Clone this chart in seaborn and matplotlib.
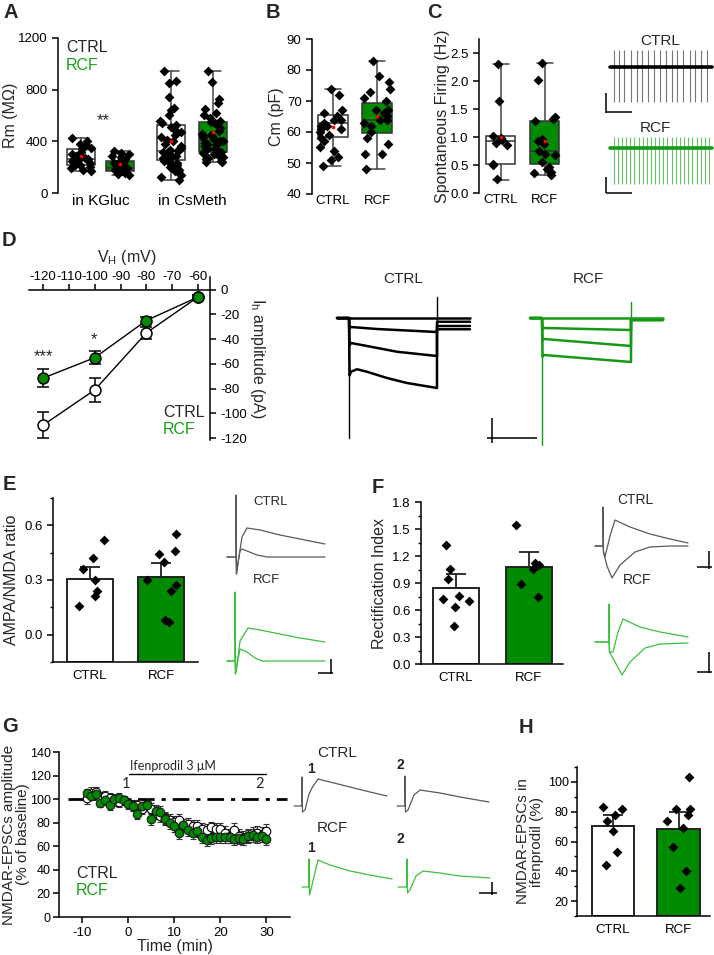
"""
plot.py
-------
Multi-panel figure comparing CTRL and RCF neurons (passive properties,
Ih, AMPA/NMDA ratio, rectification and ifenprodil sensitivity).
Saves out.png (714 x 955 px).
"""
import matplotlib

matplotlib.use("Agg")
import matplotlib.pyplot as plt
import numpy as np
import pandas as pd
import seaborn as sns

# ----------------------------------------------------------------------
# Data
# ----------------------------------------------------------------------

# A - membrane resistance (MOhm), order: KGluc CTRL, KGluc RCF, CsMeth CTRL, CsMeth RCF
A_KGLUC_CTRL = [426, 400, 380, 372, 350, 340, 320, 300, 290, 280, 270, 263, 258, 250,
                240, 230, 220, 214, 205, 195, 180, 168]
A_KGLUC_RCF = [323, 310, 300, 290, 280, 265, 250, 240, 230, 220, 210, 205, 200, 195,
               192, 188, 185, 180, 175, 172, 170, 165, 160, 155, 150, 142]
A_CSMETH_CTRL = [947, 870, 850, 740, 660, 640, 600, 560, 540, 530, 510, 490, 470, 450,
                 430, 410, 400, 380, 360, 350, 340, 330, 325, 320, 310, 300, 290, 280,
                 270, 265, 260, 255, 250, 245, 240, 230, 220, 210, 200, 190, 180, 170,
                 160, 140, 120, 103]
A_CSMETH_RCF = [947, 860, 730, 700, 650, 620, 600, 580, 560, 550, 540, 520, 500, 480,
                460, 450, 440, 430, 420, 410, 405, 400, 390, 380, 370, 360, 350, 340,
                330, 320, 315, 310, 300, 290, 280, 270, 260, 250, 240, 237]
A_Q1 = [214, 173, 253, 317]
A_MED = [263, 194, 323, 405]
A_Q3 = [343, 250, 529, 547]
A_LO = [168, 142, 103, 237]
A_HI = [426, 323, 947, 947]
A_MEAN = [285, 228, 400, 470]
A_SOLUTIONS = ["in KGluc", "in CsMeth"]

# B - membrane capacitance (pF)
B_CTRL = [74, 72, 67, 66, 65, 64, 64, 63, 62, 62, 61, 61, 60, 59, 58, 57, 55, 54, 52, 51, 49]
B_RCF = [83, 78, 76, 74, 73, 71, 70, 67, 67, 66, 65, 64, 64, 63, 62, 60, 58, 56, 53, 53, 48]
B_Q1 = [58.5, 59.8]
B_MED = [63, 64]
B_Q3 = [65.5, 69.5]
B_LO = [49, 48]
B_HI = [74, 83]
B_MEAN = [61.5, 65]

# C - spontaneous firing (Hz)
C_CTRL = [2.3, 1.65, 1.02, 0.98, 0.95, 0.9, 0.85, 0.52, 0.5, 0.25]
C_RCF = [2.32, 2.01, 1.36, 1.33, 1.28, 0.97, 0.92, 0.88, 0.75, 0.7, 0.68, 0.55,
         0.47, 0.42, 0.38, 0.35, 0.33]
C_Q1 = [0.52, 0.52]
C_MED = [0.93, 0.75]
C_Q3 = [1.01, 1.28]
C_LO = [0.24, 0.33]
C_HI = [2.3, 2.32]
C_MEAN = [1.0, 0.92]
# spike times (s) of the example cell-attached recordings
C_SPIKES_CTRL = [0.07, 0.18, 0.28, 0.41, 0.52, 0.63, 0.75, 0.86, 0.98, 1.09, 1.21,
                 1.32, 1.44, 1.56, 1.67, 1.78, 1.90]
C_SPIKES_RCF = [0.07, 0.15, 0.23, 0.31, 0.39, 0.48, 0.56, 0.64, 0.72, 0.80, 0.88, 0.96,
                1.04, 1.12, 1.21, 1.29, 1.37, 1.45, 1.53, 1.61, 1.70, 1.78, 1.86, 1.94]

# D - Ih amplitude (pA) vs holding potential (mV)
D_VH = [-120, -100, -80, -60]
D_CTRL = [-109.5, -81, -35, -6]
D_CTRL_ERR = [10.5, 10, 5, 1.5]
D_RCF = [-71.5, -55, -25, -6]
D_RCF_ERR = [7.5, 5, 3, 1.5]
# example Ih traces: (time ms, current pA) key points
D_TR_CTRL = [
    ([0, 1330], [0, 0]),
    ([0, 120, 125, 140, 400, 700, 1000, 1000, 1330], [0, 0, -40, -36, -44, -50, -56, -15, -15]),
    ([0, 120, 125, 140, 300, 600, 1000, 1000, 1330], [0, 0, -110, -100, -112, -135, -152, -32, -32]),
    ([0, 120, 125, 140, 200, 300, 500, 700, 1000, 1000, 1330],
     [0, 0, -230, -215, -205, -215, -240, -260, -280, -45, -45]),
]
D_TR_RCF = [
    ([0, 1330], [0, 0]),
    ([0, 120, 125, 140, 1010, 1010, 1330], [0, 0, -44, -40, -48, -8, -8]),
    ([0, 120, 125, 140, 1010, 1010, 1330], [0, 0, -90, -84, -112, -8, -8]),
    ([0, 120, 125, 140, 1010, 1010, 1330], [0, 0, -155, -148, -176, -8, -8]),
]

# E - AMPA/NMDA ratio
E_CTRL = [0.52, 0.42, 0.36, 0.30, 0.24, 0.21, 0.16]
E_RCF = [0.55, 0.46, 0.44, 0.40, 0.30, 0.27, 0.24, 0.08, 0.07]
E_MEAN = [0.305, 0.315]
E_SEM = [0.065, 0.08]
E_TR_CTRL = [
    ([0, 18, 18, 19, 22, 30, 40, 66, 106, 146, 196], [0, 0, 620, -170, -60, 200, 290, 270, 220, 180, 130]),
    ([0, 18, 19, 22, 26, 30, 40, 60, 80, 196], [0, 0, -170, -60, 60, 80, 60, 20, 0, 0]),
]
E_TR_RCF = [
    ([0, 16, 16, 17, 20, 26, 42, 66, 106, 146, 196], [0, 0, 690, -130, -40, 200, 330, 310, 270, 230, 190]),
    ([0, 16, 17, 20, 26, 40, 56, 70, 196], [0, 0, -130, -40, 120, 90, 30, 0, 0]),
]

# F - rectification index
F_CTRL = [1.32, 1.06, 0.95, 0.76, 0.72, 0.70, 0.63, 0.42]
F_RCF = [1.55, 1.12, 1.10, 1.06, 0.89, 0.74]
F_MEAN = [0.845, 1.08]
F_SEM = [0.16, 0.17]
F_TR_CTRL = [
    ([0, 16, 16, 17, 20, 30, 40, 70, 110, 150, 186], [0, 0, 390, -60, -110, 100, 260, 190, 120, 70, 30]),
    ([0, 16, 17, 24, 34, 50, 80, 110, 150, 186], [0, 0, -60, -200, -320, -190, -60, -10, 0, 0]),
]
F_TR_RCF = [
    ([0, 28, 28, 29, 36, 46, 56, 90, 130, 186], [0, 0, 380, -100, -100, 100, 230, 150, 100, 50]),
    ([0, 28, 29, 40, 54, 70, 100, 130, 186], [0, 0, -100, -200, -330, -200, -60, -20, -10]),
]

# G - NMDAR-EPSC time course (% of baseline)
G_TIME = [-9, -8, -7, -6, -5, -4, -3, -2, -1, 0, 1, 2, 3, 4, 5, 6, 7, 8, 9, 10,
          11, 12, 13, 14, 15, 16, 17, 18, 19, 20, 21, 22, 23, 24, 25, 26, 27, 28, 29, 30]
G_CTRL = [101, 105, 106, 102, 103, 101, 99, 98, 99, 97, 95, 95, 92, 96, 92, 88, 86, 84, 82, 81,
          82, 78, 79, 77, 77, 75, 74, 76, 75, 75, 71, 69, 74, 69, 67, 69, 70, 71, 70, 73]
G_CTRL_SEM = [5, 5, 4, 4, 4, 4, 5, 5, 4, 4, 4, 4, 5, 5, 5, 5, 5, 5, 5, 5,
              5, 5, 5, 5, 5, 5, 5, 5, 5, 5, 6, 6, 6, 6, 6, 6, 6, 6, 6, 6]
G_RCF = [105, 103, 104, 97, 99, 95, 100, 101, 99, 96, 94, 87, 94, 95, 83, 90, 89, 83, 80, 77,
         71, 78, 74, 71, 73, 68, 65, 67, 68, 68, 68, 68, 66, 67, 66, 69, 70, 68, 69, 66]
G_RCF_SEM = [4, 4, 4, 4, 4, 4, 4, 4, 4, 4, 4, 4, 4, 4, 5, 5, 5, 5, 5, 5,
             5, 5, 5, 5, 5, 5, 5, 5, 5, 5, 5, 5, 5, 5, 5, 5, 5, 5, 5, 5]
G_TR_CTRL_1 = ([0, 16, 16, 17, 22, 30, 36, 48, 72, 112, 152, 186], [0, 0, 290, -60, -40, 120, 180, 270, 240, 190, 140, 100])
G_TR_CTRL_2 = ([0, 16, 16, 17, 22, 34, 46, 86, 126, 184], [0, 0, 300, -60, -40, 110, 160, 130, 90, 40])
G_TR_RCF_1 = ([0, 14, 14, 15, 20, 32, 56, 96, 136, 180], [0, 0, 280, -80, 20, 270, 220, 160, 120, 80])
G_TR_RCF_2 = ([0, 18, 18, 19, 24, 36, 50, 84, 124, 184], [0, 0, 280, -60, -30, 110, 160, 140, 110, 90])

# H - NMDAR-EPSCs remaining in ifenprodil (%)
H_CTRL = [83, 82, 78, 74, 67, 53, 44]
H_RCF = [103, 82, 82, 78, 74, 69, 56, 40, 29]
H_MEAN = [70.5, 68.3]
H_SEM = [7.3, 11.2]

GROUPS = ["CTRL", "RCF"]

# ----------------------------------------------------------------------
# Style
# ----------------------------------------------------------------------

W, H = 714, 955
GREEN = "#008a00"
GREEN_TXT = "#17a317"
GREEN_TRACE = "#3dbf3d"
GRAY_TRACE = "#5a5a5a"
EDGE = "#222222"

sns.set_style("ticks")
plt.rcParams["font.family"] = ["Liberation Sans", "DejaVu Sans"]
plt.rcParams.update({
    "axes.linewidth": 1.1,
    "axes.edgecolor": "black",
    "axes.unicode_minus": False,
    "xtick.major.size": 4,
    "ytick.major.size": 4,
    "xtick.minor.size": 2.5,
    "ytick.minor.size": 2.5,
    "xtick.major.width": 1.1,
    "ytick.major.width": 1.1,
    "xtick.minor.width": 1.0,
    "ytick.minor.width": 1.0,
    "xtick.labelsize": 9.5,
    "ytick.labelsize": 9.5,
    "axes.labelsize": 11.5,
    "xtick.color": "black",
    "ytick.color": "black",
    "mathtext.default": "regular",
})

fig = plt.figure(figsize=(W / 100, H / 100), dpi=100)


def px_axes(x0, y0, x1, y1):
    """Axes from pixel corners (top-left origin)."""
    return fig.add_axes([x0 / W, 1 - y1 / H, (x1 - x0) / W, (y1 - y0) / H])


def ftxt(x, y, s, **kw):
    kw.setdefault("ha", "left")
    kw.setdefault("va", "center")
    return fig.text(x / W, 1 - y / H, s, **kw)


def ylabel_at(ax, text, x_px, rotation=90, **kw):
    """Place the y label with its centre at pixel column x_px."""
    pos = ax.get_position()
    ax.set_ylabel(text, rotation=rotation, va="center", ha="center", **kw)
    ax.yaxis.set_label_coords((x_px / W - pos.x0) / pos.width, 0.5)


def trace_ax(x0, y0, x1, y1, t0_px, base_px, t_per_px, i_per_px):
    """Invisible axes for example traces, scaled in time/amplitude units."""
    ax = px_axes(x0, y0, x1, y1)
    ax.set_xlim((x0 - t0_px) * t_per_px, (x1 - t0_px) * t_per_px)
    ax.set_ylim((base_px - y1) * i_per_px, (base_px - y0) * i_per_px)
    ax.axis("off")
    return ax


def scale_bar(ax, x, y_top, y_bot, x_left, x_right, y_h, color="black"):
    ax.plot([x, x], [y_top, y_bot], color=color, lw=1.1, solid_capstyle="butt")
    ax.plot([x_left, x_right], [y_h, y_h], color=color, lw=1.1, solid_capstyle="butt")


def points(ax, positions, groups, jitter, size=5):
    df = pd.DataFrame({
        "pos": np.repeat(positions, [len(g) for g in groups]),
        "val": np.concatenate(groups),
    })
    sns.stripplot(data=df, x="pos", y="val", native_scale=True, orient="x",
                  jitter=jitter, color="black", marker="D", size=size,
                  linewidth=0, ax=ax, zorder=4)
    ax.set_xlabel("")
    ax.set_ylabel("")


def box_panel(ax, positions, groups, stats, width, jitter, colors):
    q1, med, q3, lo, hi, mean = stats
    bstats = [dict(q1=a, med=b, q3=c, whislo=d, whishi=e, mean=f, fliers=[])
              for a, b, c, d, e, f in zip(q1, med, q3, lo, hi, mean)]
    bp = ax.bxp(bstats, positions=positions, widths=width, patch_artist=True,
                showmeans=True, showfliers=False, capwidths=width * 0.55,
                boxprops=dict(linewidth=1.1, edgecolor="#333333"),
                medianprops=dict(color="#333333", linewidth=1.1),
                whiskerprops=dict(color="#444444", linewidth=1.1),
                capprops=dict(color="#444444", linewidth=1.1),
                meanprops=dict(marker="o", markersize=1.6, markerfacecolor="red",
                               markeredgecolor="red"))
    for box, c in zip(bp["boxes"], colors):
        box.set_facecolor(c)
    points(ax, positions, groups, jitter)
    for m in bp["means"]:
        m.set_zorder(6)


def bar_panel(ax, means, sems, groups, bottom, width, jitter):
    pos = [0, 1]
    ax.bar(pos, [m - bottom for m in means], bottom=bottom, width=width,
           color=["white", GREEN], edgecolor=EDGE, linewidth=1.4, zorder=2)
    ax.errorbar(pos, means, yerr=[[0, 0], sems], fmt="none", ecolor=EDGE,
                elinewidth=1.3, capsize=7, capthick=1.3, zorder=3)
    points(ax, pos, groups, jitter)
    ax.set_xticks(pos, GROUPS)
    ax.tick_params(axis="x", length=0, pad=6)
    sns.despine(ax=ax)


np.random.seed(7)

# ----------------------------------------------------------------------
# A
# ----------------------------------------------------------------------
axA = px_axes(58, 38, 240, 193)
A_POS = [0.787, 1.213, 1.77, 2.23]
box_panel(axA, A_POS, [A_KGLUC_CTRL, A_KGLUC_RCF, A_CSMETH_CTRL, A_CSMETH_RCF],
          (A_Q1, A_MED, A_Q3, A_LO, A_HI, A_MEAN), 0.31, 0.28,
          ["white", GREEN, "white", GREEN])
axA.set_xlim(0.535, 2.525)
axA.set_ylim(0, 1200)
axA.set_yticks([0, 400, 800, 1200])
axA.set_xticks([1, 2], A_SOLUTIONS, fontsize=11)
axA.tick_params(axis="x", length=0, pad=1)
ylabel_at(axA, "Rm (M\u03a9)", 10)
sns.despine(ax=axA, bottom=True)
ftxt(66, 47, "CTRL", fontsize=11.5)
ftxt(66, 65, "RCF", fontsize=11.5, color=GREEN_TXT)
ftxt(103, 121, "**", fontsize=12, ha="center")

# ----------------------------------------------------------------------
# B
# ----------------------------------------------------------------------
axB = px_axes(312, 39, 400, 194)
box_panel(axB, [0, 1], [B_CTRL, B_RCF], (B_Q1, B_MED, B_Q3, B_LO, B_HI, B_MEAN),
          0.68, 0.3, ["white", GREEN])
axB.set_xlim(-0.477, 1.52)
axB.set_ylim(40, 90)
axB.set_yticks([40, 50, 60, 70, 80, 90])
axB.set_xticks([0, 1], GROUPS)
axB.tick_params(axis="x", length=0, pad=1)
ylabel_at(axB, "Cm (pF)", 276)
sns.despine(ax=axB, bottom=True)

# ----------------------------------------------------------------------
# C
# ----------------------------------------------------------------------
axC = px_axes(479, 39, 570, 193)
box_panel(axC, [0, 1], [C_CTRL, C_RCF], (C_Q1, C_MED, C_Q3, C_LO, C_HI, C_MEAN),
          0.66, 0.28, ["white", GREEN])
axC.set_xlim(-0.5, 1.57)
axC.set_ylim(0, 2.75)
axC.set_yticks([0, 0.5, 1.0, 1.5, 2.0, 2.5], ["0.0", "0.5", "1.0", "1.5", "2.0", "2.5"])
axC.set_xticks([0, 1], GROUPS)
axC.tick_params(axis="x", length=0, pad=1)
ylabel_at(axC, "Spontaneous Firing (Hz)", 442)
sns.despine(ax=axC, bottom=True)

# spontaneous firing traces
axCt = trace_ax(600, 45, 714, 118, 610, 67, 1 / 51, 1)
axCt.vlines(C_SPIKES_CTRL, -35, 17, color="#777777", lw=0.8)
axCt.plot([0, 2.0], [0, 0], color="black", lw=2.6)
scale_bar(axCt, -0.08, -26, -46, -0.08, 0.43, -45)
axCr = trace_ax(600, 130, 714, 198, 610, 148, 1 / 51, 1)
axCr.vlines(C_SPIKES_RCF, -36, 11, color="#66c466", lw=0.8)
axCr.plot([0, 2.0], [0, 0], color="#169a16", lw=2.6)
scale_bar(axCr, -0.08, -29, -45, -0.08, 0.43, -45)
ftxt(660, 41, "CTRL", fontsize=11, ha="center")
ftxt(655, 128, "RCF", fontsize=11, ha="center")

# ----------------------------------------------------------------------
# D
# ----------------------------------------------------------------------
axD = px_axes(29, 277, 210, 440)
axD.plot(D_VH, D_CTRL, color="black", lw=1, zorder=2)
axD.plot(D_VH, D_RCF, color="black", lw=1, zorder=2)
axD.errorbar(D_VH, D_CTRL, yerr=D_CTRL_ERR, fmt="none", ecolor="black",
             elinewidth=1.1, capsize=4, capthick=1.1, zorder=3)
axD.errorbar(D_VH, D_RCF, yerr=D_RCF_ERR, fmt="none", ecolor="black",
             elinewidth=1.1, capsize=4, capthick=1.1, zorder=3)
sns.scatterplot(x=D_VH, y=D_CTRL, color="white", edgecolor="black", s=62,
                linewidth=1.1, zorder=4, ax=axD)
sns.scatterplot(x=D_VH, y=D_RCF, color=GREEN, edgecolor="black", s=62,
                linewidth=1.1, zorder=5, ax=axD)
axD.set_xlim(-125.4, -55.4)
axD.set_ylim(-121.4, 10.1)
axD.spines["top"].set_position(("data", 0))
axD.spines["bottom"].set_visible(False)
axD.spines["left"].set_visible(False)
axD.xaxis.set_ticks_position("top")
axD.yaxis.set_ticks_position("right")
axD.set_xticks([-120, -110, -100, -90, -80, -70, -60])
axD.set_yticks([0, -20, -40, -60, -80, -100, -120])
axD.tick_params(axis="x", pad=1)
ylabel_at(axD, "I$_\\mathregular{h}$ amplitude (pA)", 257, rotation=270)
ftxt(127, 257, "V$_\\mathregular{H}$ (mV)", fontsize=11.5, ha="center")
ftxt(43, 357, "***", fontsize=12, ha="center")
ftxt(94, 340, "*", fontsize=12, ha="center")
ftxt(163, 412, "CTRL", fontsize=11.5)
ftxt(163, 429, "RCF", fontsize=11.5, color=GREEN_TXT)

# Ih traces
axDc = trace_ax(330, 282, 545, 450, 337, 318, 10, 4)
for t, i in D_TR_CTRL:
    axDc.plot(t, i, color="black", lw=1.8)
axDc.plot([120, 120], [0, -480], color="black", lw=1)
axDc.plot([1000, 1000], [-50, 84], color="black", lw=1)
scale_bar(axDc, 1550, -400, -500, 1500, 2000, -480)
axDr = trace_ax(525, 282, 670, 450, 530, 318, 10, 4)
for t, i in D_TR_RCF:
    axDr.plot(t, i, color="#169a16", lw=1.8)
axDr.plot([120, 120], [0, -508], color="#169a16", lw=1)
axDr.plot([1010, 1010], [-50, 64], color="#169a16", lw=1)
ftxt(403, 279, "CTRL", fontsize=11, ha="center")
ftxt(588, 279, "RCF", fontsize=11, ha="center")

# ----------------------------------------------------------------------
# E
# ----------------------------------------------------------------------
axE = px_axes(53, 498, 198, 662)
bar_panel(axE, E_MEAN, E_SEM, [E_CTRL, E_RCF], -0.15, 0.65, 0.22)
axE.set_xlim(-0.52, 1.52)
axE.set_ylim(-0.15, 0.75)
axE.set_yticks([0.0, 0.3, 0.6], ["0.0", "0.3", "0.6"])
axE.set_yticks([-0.15, 0.15, 0.45, 0.75], minor=True)
ylabel_at(axE, "AMPA/NMDA ratio", 11)

axEc = trace_ax(222, 490, 340, 582, 227, 557, 2, 10)
for t, i in E_TR_CTRL:
    axEc.plot(t, i, color=GRAY_TRACE, lw=0.9)
axEr = trace_ax(222, 585, 340, 680, 227, 661, 2, 10)
for t, i in E_TR_RCF:
    axEr.plot(t, i, color=GREEN_TRACE, lw=0.9)
scale_bar(axEr, 208, 20, -130, 182, 212, -120)
ftxt(253, 502, "CTRL", fontsize=9.5)
ftxt(253, 580, "RCF", fontsize=9.5)

# ----------------------------------------------------------------------
# F
# ----------------------------------------------------------------------
axF = px_axes(421, 502, 563, 664)
bar_panel(axF, F_MEAN, F_SEM, [F_CTRL, F_RCF], 0, 0.64, 0.22)
axF.set_xlim(-0.48, 1.466)
axF.set_ylim(0, 1.8)
axF.set_yticks([0, 0.3, 0.6, 0.9, 1.2, 1.5, 1.8],
               ["0.0", "0.3", "0.6", "0.9", "1.2", "1.5", "1.8"])
axF.set_yticks([0.15, 0.45, 0.75, 1.05, 1.35, 1.65], minor=True)
ylabel_at(axF, "Rectification Index", 379)

axFc = trace_ax(590, 495, 720, 585, 595, 546, 2, 10)
for t, i in F_TR_CTRL:
    axFc.plot(t, i, color=GRAY_TRACE, lw=0.9)
scale_bar(axFc, 228, -50, -230, 204, 234, -210)
axFr = trace_ax(590, 590, 720, 680, 595, 642, 2, 10)
for t, i in F_TR_RCF:
    axFr.plot(t, i, color=GREEN_TRACE, lw=0.9)
scale_bar(axFr, 228, -100, -310, 204, 234, -300)
ftxt(617, 500, "CTRL", fontsize=10)
ftxt(623, 580, "RCF", fontsize=10)

# ----------------------------------------------------------------------
# G
# ----------------------------------------------------------------------
axG = px_axes(59, 752, 290, 917)
axG.axhline(100, xmin=0.04, xmax=0.985, color="black", lw=2,
            linestyle=(0, (6, 2.5, 1.5, 2.5)), zorder=1)
axG.errorbar(G_TIME, G_CTRL, yerr=G_CTRL_SEM, fmt="none", ecolor="#333333",
             elinewidth=0.8, capsize=2, capthick=0.8, zorder=2)
axG.errorbar(G_TIME, G_RCF, yerr=G_RCF_SEM, fmt="none", ecolor="#333333",
             elinewidth=0.8, capsize=2, capthick=0.8, zorder=2)
sns.scatterplot(x=G_TIME, y=G_CTRL, color="white", edgecolor="black", s=38,
                linewidth=0.8, zorder=3, ax=axG)
sns.scatterplot(x=G_TIME, y=G_RCF, color=GREEN, edgecolor="#1a1a1a", s=38,
                linewidth=0.8, zorder=4, ax=axG)
axG.plot([0.1, 30], [121.5, 121.5], color="black", lw=1)
axG.text(0.3, 128, "Ifenprodil 3 \u03bcM", fontsize=9, family=["Lato", "DejaVu Sans"],
         va="center")
axG.text(-0.4, 112.5, "1", fontsize=10.5, ha="center", va="center",
         family=["Lato", "DejaVu Sans"])
axG.text(28.6, 113, "2", fontsize=10.5, ha="center", va="center",
         family=["Lato", "DejaVu Sans"])
axG.set_xlim(-15, 35.1)
axG.set_ylim(0, 140)
axG.set_xticks([-10, 0, 10, 20, 30])
axG.set_yticks([0, 20, 40, 60, 80, 100, 120, 140])
axG.tick_params(axis="y", labelsize=9, pad=2)
axG.set_xlabel("Time (min)", labelpad=0)
ylabel_at(axG, "NMDAR-EPSCs amplitude\n(% of baseline)", 16, linespacing=0.95,
          fontsize=11)
sns.despine(ax=axG)
ftxt(76, 873, "CTRL", fontsize=11.5)
ftxt(76, 890, "RCF", fontsize=11.5, color=GREEN_TXT)

for rect, t0, base, tr, col in [
    ((290, 770, 395, 820), 294, 806, G_TR_CTRL_1, GRAY_TRACE),
    ((393, 770, 498, 820), 397, 806, G_TR_CTRL_2, GRAY_TRACE),
    ((296, 850, 400, 900), 302, 887, G_TR_RCF_1, GREEN_TRACE),
    ((394, 850, 500, 900), 398, 887, G_TR_RCF_2, GREEN_TRACE),
]:
    axg = trace_ax(*rect, t0, base, 2, 10)
    axg.plot(tr[0], tr[1], color=col, lw=0.9)
scale_bar(axg, 188, 50, -80, 162, 198, -60)
ftxt(317, 753, "CTRL", fontsize=11)
ftxt(317, 828, "RCF", fontsize=11)
ftxt(311, 769, "1", fontsize=10, weight="bold", ha="center")
ftxt(400, 765, "2", fontsize=10, weight="bold", ha="center")
ftxt(311, 848, "1", fontsize=10, weight="bold", ha="center")
ftxt(400, 839, "2", fontsize=10, weight="bold", ha="center")

# ----------------------------------------------------------------------
# H
# ----------------------------------------------------------------------
axH = px_axes(577, 767, 710, 916)
bar_panel(axH, H_MEAN, H_SEM, [H_CTRL, H_RCF], 10, 0.65, 0.22)
axH.set_xlim(-0.55, 1.48)
axH.set_ylim(10, 110)
axH.set_yticks([20, 40, 60, 80, 100])
axH.set_yticks([10, 30, 50, 70, 90, 110], minor=True)
axH.tick_params(axis="y", labelsize=9, pad=2)
ylabel_at(axH, "NMDAR-EPSCs in\nifenprodil (%)", 530, linespacing=0.95, fontsize=11)

# ----------------------------------------------------------------------
# Panel letters
# ----------------------------------------------------------------------
for letter, x, y in [("A", 3, 13), ("B", 266, 13), ("C", 427, 13), ("D", 2, 240),
                     ("E", 3, 484), ("F", 372, 487), ("G", 2, 726), ("H", 519, 727)]:
    ftxt(x, y, letter, fontsize=14.5, weight="bold")

fig.savefig("out.png", dpi=100)
